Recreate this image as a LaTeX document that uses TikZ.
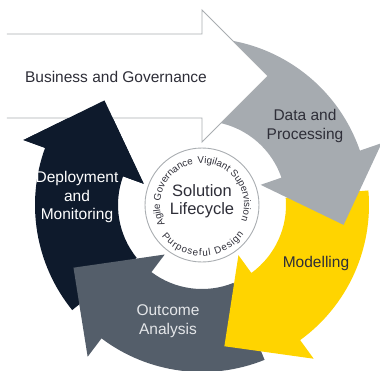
\documentclass[tikz,border=0pt]{standalone}
\usepackage{fontspec}
\setmainfont{Liberation Sans}
\usetikzlibrary{decorations.text}

\definecolor{eygrey}{HTML}{A6ABB0}
\definecolor{eyyellow}{HTML}{FFD400}
\definecolor{eyslate}{HTML}{545E6A}
\definecolor{eynavy}{HTML}{0E1A2C}
\definecolor{eyline}{HTML}{A9ADB1}
\definecolor{eytext}{HTML}{2E2E38}
\definecolor{eypale}{HTML}{E4E6E9}

% ring arrow: colour, tail angle, base angle of head
\newcommand{\ringarrow}[3]{%
  \fill[#1] (#2:167) arc[start angle=#2, end angle=#3, radius=167]
    -- (#3:190) -- ({#3-27}:143) -- (#3:62) -- (#3:84)
    arc[start angle=#3, end angle=#2, radius=84] -- cycle;}
\newcommand{\ringhead}[2]{%
  \fill[#1] (#2:190) -- ({#2-27}:143) -- (#2:62) -- cycle;}
\newcommand{\arcfont}{\fontsize{9.8}{12}\selectfont}

\begin{document}
\begin{tikzpicture}[x=1pt,y=1pt,
    stagetext/.style={font=\fontsize{15.5}{18.5}\selectfont, align=center},
    hubtext/.style={font=\fontsize{16.5}{18.5}\selectfont, align=center, text=eytext},
    outline/.style={draw=eyline, line width=0.9pt},
    ringtext/.style={decorate, decoration={text along path, text color=eytext}}]
  \useasboundingbox (-202,-165) rectangle (178,205);

  % the four stages, clockwise
  \ringarrow{eynavy}{219}{160}
  \ringarrow{eyslate}{-68}{-127}
  \ringarrow{eyyellow}{5}{-54}
  \ringarrow{eygrey}{88}{19}

  % business arrow
  \fill[white] (-195,87) -- (-195,171) -- (0,171) -- (0,195) -- (66,129) -- (0,63) -- (0,87) -- cycle;
  \draw[outline] (-195,171) -- (0,171) -- (0,195) -- (66,129) -- (0,63) -- (0,87) -- (-195,87);
  \ringhead{eynavy}{160}

  % hub
  \node[circle, outline, minimum size=114, inner sep=0pt] (hub) at (0,0) {};
  \node[hubtext] (hublabel) at (0,4) {Solution\\Lifecycle};
  \path[ringtext, decoration={text={|\arcfont|Agile Governance}}]
    (208:42) arc[start angle=208, end angle=80, radius=42];
  \path[ringtext, decoration={text={|\arcfont|Vigilant Supervision}}]
    (96:42) arc[start angle=96, end angle=-45, radius=42];
  \path[ringtext, decoration={text={|\arcfont|Purposeful Design}, text align=fit to path}]
    (218:51) arc[start angle=218, end angle=325, radius=51];

  \node[stagetext, text=eytext] (business) at (-86,128) {Business and Governance};
  \node[stagetext, text=eytext] (data) at (103,79) {Data and\\Processing};
  \node[stagetext, text=eytext] (modelling) at (114,-58) {Modelling};
  \node[stagetext, text=eypale] (outcome) at (-34,-116) {Outcome\\Analysis};
  \node[stagetext, text=white] (deploy) at (-125,8) {Deployment\\and\\Monitoring};
\end{tikzpicture}
\end{document}
